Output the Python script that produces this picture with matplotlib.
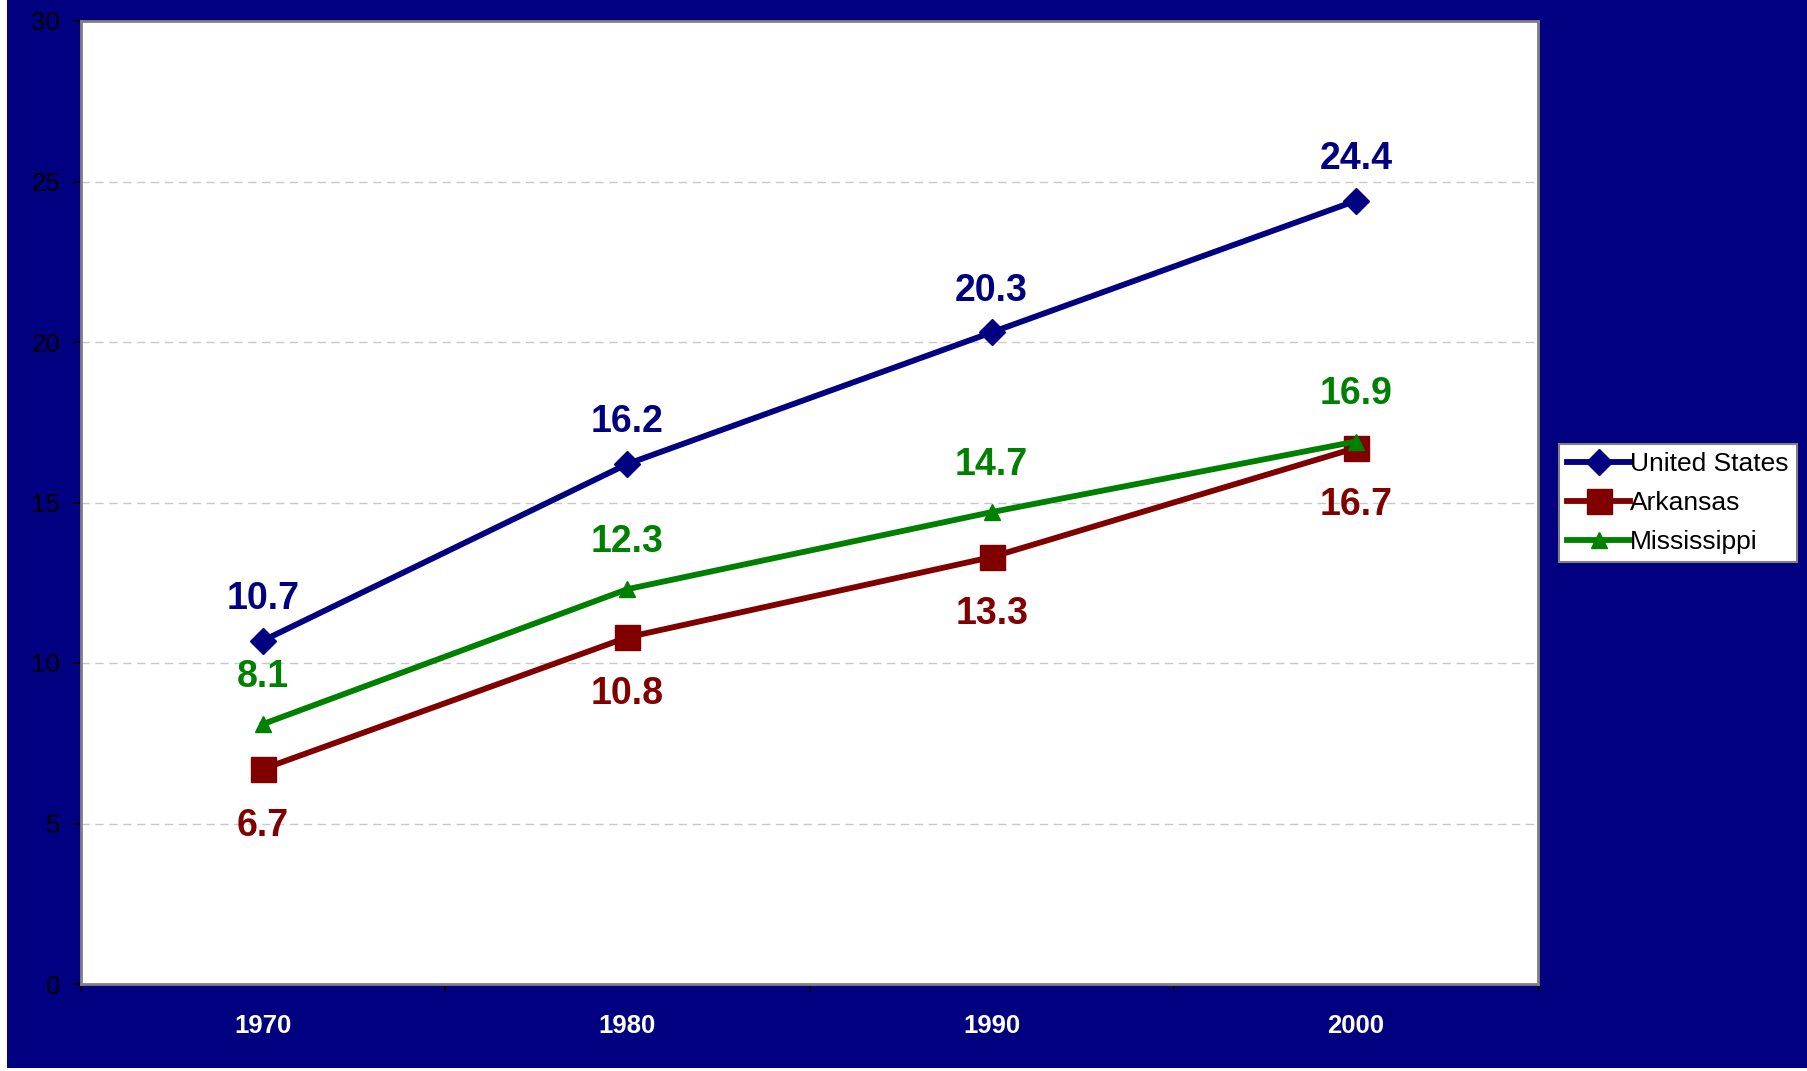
import matplotlib
matplotlib.use("Agg")
import matplotlib.pyplot as plt
from matplotlib.patches import Rectangle

plt.rcParams['font.family'] = ['Liberation Sans', 'DejaVu Sans']

years = ["1970", "1980", "1990", "2000"]
us = [10.7, 16.2, 20.3, 24.4]
arkansas = [6.7, 10.8, 13.3, 16.7]
mississippi = [8.1, 12.3, 14.7, 16.9]
yticks = [0, 5, 10, 15, 20, 25, 30]

NAVY = "#000080"
RED = "#800000"
GREEN = "#008000"

fig = plt.figure(figsize=(18.07, 10.71), dpi=100, facecolor="white")
fig.patches.append(Rectangle((7/1807, 1-1068/1071), 1-7/1807, 1068/1071,
                             transform=fig.transFigure, facecolor=NAVY,
                             edgecolor="none", zorder=-10))

ax = fig.add_axes([81/1807, 1-984/1071, (1538-81)/1807, (984-21)/1071])
ax.set_facecolor("white")
x = list(range(len(years)))

ax.plot(x, us, color=NAVY, lw=4.2, marker="D", ms=13, label="United States", zorder=3)
ax.plot(x, arkansas, color=RED, lw=4.2, marker="s", ms=18, label="Arkansas", zorder=3)
ax.plot(x, mississippi, color=GREEN, lw=4.2, marker="^", ms=12, label="Mississippi", zorder=4)

fs = 27
for xi, v in zip(x, us):
    ax.annotate(f"{v:g}", (xi, v), xytext=(0, 30), textcoords="offset points",
                ha="center", va="center", fontsize=fs, fontweight="bold", color=NAVY)
for xi, v in zip(x, arkansas):
    ax.annotate(f"{v:g}", (xi, v), xytext=(0, -41), textcoords="offset points",
                ha="center", va="center", fontsize=fs, fontweight="bold", color=RED)
for xi, v in zip(x, mississippi):
    ax.annotate(f"{v:g}", (xi, v), xytext=(0, 34), textcoords="offset points",
                ha="center", va="center", fontsize=fs, fontweight="bold", color=GREEN)

ax.set_xlim(-0.5, len(years) - 0.5)
ax.set_ylim(0, 30)
ax.set_yticks(yticks)
ax.set_yticklabels([str(t) for t in yticks])
ax.tick_params(axis="y", length=6, width=1.2, color="black", labelsize=18.5, pad=9, labelcolor="black")
ax.set_xticks(x)
ax.set_xticklabels(years)
ax.set_xticks([i - 0.5 for i in range(len(years) + 1)], minor=True)
ax.tick_params(axis="x", which="major", length=0, pad=21.5, labelsize=18.5, labelcolor="white")
for lab in ax.get_xticklabels():
    lab.set_fontweight("bold")
ax.tick_params(axis="x", which="minor", length=6, width=1.2, color="black")

for t in yticks[1:-1]:
    ax.axhline(t, color="#c8c8c8", lw=1, ls=(0, (6, 4)), zorder=1)

for s in ax.spines.values():
    s.set_color("#808080")
    s.set_linewidth(2)

leg = ax.legend(loc="center left", bbox_to_anchor=(1559/1807, 1-503/1071),
                bbox_transform=fig.transFigure, fontsize=19, frameon=True,
                fancybox=False, edgecolor="#808080", framealpha=1,
                handlelength=2.4, handletextpad=0.0, borderpad=0.3,
                labelspacing=0.56, borderaxespad=0)
leg.get_frame().set_linewidth(1.5)

fig.savefig("out.png", dpi=100, facecolor=fig.get_facecolor())
